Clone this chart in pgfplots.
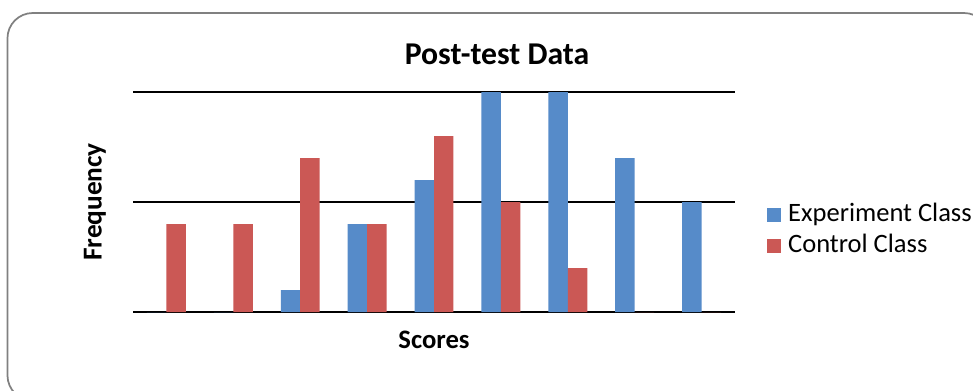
\documentclass[border=0pt]{standalone}
\usepackage{fontspec}
\setmainfont{Carlito}
\usepackage{pgfplots}
\pgfplotsset{compat=1.18}
\definecolor{expblue}{RGB}{86,139,201}
\definecolor{ctrlred}{RGB}{203,88,85}
\begin{document}
\begin{tikzpicture}[x=1pt,y=1pt]
\useasboundingbox (0,0) rectangle (729.75,292.5);
\draw[color=black!50, line width=1.3pt, rounded corners=19pt] (5.6,-8) rectangle (742,282.75);
\begin{axis}[
  at={(99.75pt,58.5pt)}, anchor=south west,
  scale only axis, width=451.5pt, height=165pt,
  xmin=0.5, xmax=9.5, ymin=0, ymax=10,
  ybar=0pt, bar width=14.6pt,
  ytick={0,5,10}, yticklabels={}, xtick=\empty,
  ymajorgrids, grid style={black, line width=1.5pt},
  axis line style={draw=none}, major tick length=0pt,
  every axis title shift=0pt,
  title={\fontsize{23.8}{28}\selectfont\bfseries Post-test Data},
  title style={at={(0.6047,1.1727)}, anchor=center},
  xlabel={\fontsize{20}{24}\selectfont\bfseries Scores},
  xlabel style={at={(0.5,-0.127)}, anchor=center},
  ylabel={\fontsize{20.5}{24}\selectfont\bfseries Frequency},
  ylabel style={at={(-0.0631,0.5)}, anchor=center, rotate=0},
  legend style={at={(1.053,0.37)}, anchor=west, draw=none, fill=none,
    inner sep=0pt, row sep=5.25pt, font=\fontsize{19.9}{23}\selectfont,
    cells={anchor=west},
    nodes={inner sep=0pt, text height=13.5pt, text depth=4.5pt},
    /tikz/every odd column/.append style={column sep=5.25pt}},
  legend image code/.code={\fill[#1] (0pt,-5.25pt) rectangle (10.5pt,5.25pt);},
]
\addplot[fill=expblue, draw=none] coordinates {(1,0) (2,0) (3,1) (4,4) (5,6) (6,10) (7,10) (8,7) (9,5)};
\addplot[fill=ctrlred, draw=none] coordinates {(1,4) (2,4) (3,7) (4,4) (5,8) (6,5) (7,2) (8,0) (9,0)};
\legend{Experiment Class, Control Class}
\end{axis}
\end{tikzpicture}
\end{document}
